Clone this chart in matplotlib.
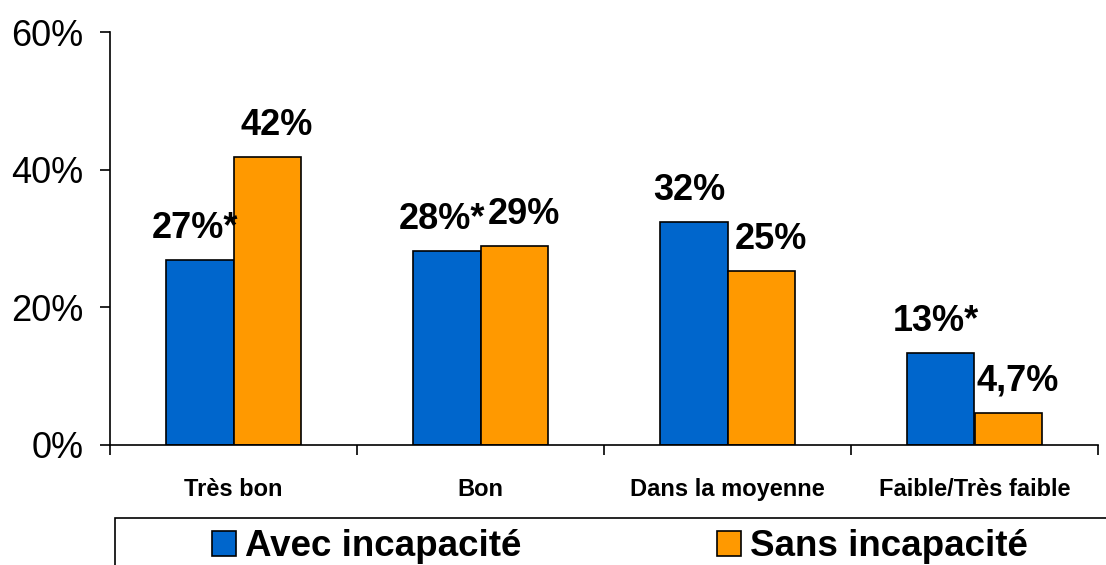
import numpy as np
import matplotlib
matplotlib.use('Agg')
import matplotlib.pyplot as plt
from matplotlib.patches import Rectangle, Patch

plt.rcParams['font.family'] = ['Liberation Sans', 'DejaVu Sans']

categories = ['Très bon', 'Bon', 'Dans la moyenne', 'Faible/Très faible']
avec = [26.9, 28.2, 32.4, 13.4]
sans = [41.8, 28.9, 25.3, 4.7]
avec_labels = ['27%*', '28%*', '32%', '13%*']
sans_labels = ['42%', '29%', '25%', '4,7%']
series_names = ['Avec incapacité', 'Sans incapacité']
blue = '#0066CC'
orange = '#FF9900'

fig = plt.figure(figsize=(11.06, 5.65), dpi=100)
ax = fig.add_axes([110/1106, 120/565, 988/1106, 413/565])

x = np.arange(len(categories))
w = 0.275
b1 = ax.bar(x - w/2, avec, w, color=blue, edgecolor='black', linewidth=1.2)
b2 = ax.bar(x + w/2, sans, w, color=orange, edgecolor='black', linewidth=1.2)

# value labels, blue ones nudged left, orange ones right
for bars, labs, dx in ((b1, avec_labels, -3), (b2, sans_labels, 7)):
    for r, lab in zip(bars, labs):
        ax.annotate(lab, (r.get_x() + r.get_width()/2, r.get_height()),
                    xytext=(dx, 16), textcoords='offset points',
                    ha='center', va='baseline', fontsize=26, fontweight='bold')

ax.set_xlim(-0.5, len(categories) - 0.5)
ax.set_ylim(0, 60)
ax.set_yticks([0, 20, 40, 60])
ax.set_yticklabels(['0%', '20%', '40%', '60%'], fontsize=26)
ax.tick_params(axis='y', length=7, width=1.2, pad=12)

ax.set_xticks(np.arange(-0.5, len(categories), 1.0))
ax.set_xticklabels([])
ax.set_xticks(x, minor=True)
ax.set_xticklabels(categories, minor=True, fontsize=17, fontweight='bold')
ax.tick_params(axis='x', which='major', length=7, width=1.2, direction='out')
ax.tick_params(axis='x', which='minor', length=0, pad=24)

for s in ['top', 'right']:
    ax.spines[s].set_visible(False)
for s in ['left', 'bottom']:
    ax.spines[s].set_linewidth(1.2)

# legend box running off the figure edge
fig.patches.append(Rectangle((115/1106, -0.1), 1.0, (565-518)/565 + 0.1,
                             transform=fig.transFigure, fill=False,
                             edgecolor='black', linewidth=1.2))
handles = [Patch(facecolor=blue, edgecolor='black', linewidth=1.2),
           Patch(facecolor=orange, edgecolor='black', linewidth=1.2)]
fig.legend(handles, series_names, loc='center', ncol=2,
           bbox_to_anchor=(620/1106, 1 - 547/565), frameon=False,
           prop={'size': 26.5, 'weight': 'bold'},
           handlelength=0.65, handleheight=0.65, handletextpad=0.25,
           columnspacing=5.3)

fig.savefig('out.png', dpi=100)
